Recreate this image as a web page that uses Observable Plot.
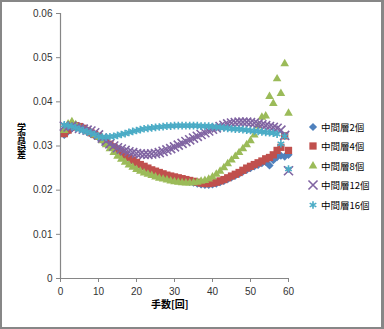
<!DOCTYPE html>
<html><head><meta charset="utf-8">
<script src="https://cdn.jsdelivr.net/npm/d3@7"></script>
<script src="https://cdn.jsdelivr.net/npm/@observablehq/plot@0.6"></script>
<style>
html,body{margin:0;padding:0;background:#fff;}
#wrap{position:relative;width:384px;height:329px;overflow:hidden;font-family:"Noto Sans CJK JP","Liberation Sans",sans-serif;}
#frame{position:absolute;left:0;top:0;width:384px;height:329px;box-sizing:border-box;border:2px solid #878787;border-right-width:3px;pointer-events:none;}
#chart{position:absolute;left:0;top:0;}
#ytitle{position:absolute;left:16px;top:123px;font-size:9px;font-weight:bold;color:#000;writing-mode:vertical-rl;text-orientation:upright;line-height:11px;font-family:"Noto Sans CJK JP",sans-serif;}
#xtitle{position:absolute;left:151px;top:296px;font-size:10px;font-weight:bold;color:#000;}
#legend{position:absolute;left:307px;top:117px;font-size:9.5px;color:#000;}
.li{display:flex;align-items:center;height:19.5px;}
.li svg{margin-right:2px;}
</style></head>
<body>
<div id="wrap"><div id="chart"></div><div id="ytitle"></div><div id="xtitle"></div><div id="legend"></div><div id="frame"></div></div>
<script>
const seriesNames = ["中間層2個","中間層4個","中間層8個","中間層12個","中間層16個"];
const colors = ["#4F81BD","#C0504D","#9BBB59","#8064A2","#4BACC6"];
const symbols = ["diamond2","square","triangle","times","asterisk"];
const epochs = d3.range(1, 61);
const xTicks = [0,10,20,30,40,50,60];
const yTicks = [0,0.01,0.02,0.03,0.04,0.05,0.06];
const xTitle = "手数[回]";
const yTitle = "学習誤差";

const s4 = [.0328,.0336,.0343,.0346,.0344,.0340,.0335,.0330,.0326,.0322,
            .0316,.0310,.0304,.0298,.0292,.0286,.0280,.0274,.0268,.0263,
            .0258,.0254,.0250,.0246,.0243,.0240,.0237,.0234,.0232,.0230,
            .0228,.0226,.0224,.0222,.0220,.0218,.0216,.0215,.0215,.0216,
            .0218,.0221,.0224,.0228,.0232,.0236,.0240,.0245,.0250,.0254,
            .0258,.0262,.0266,.0271,.0274,.0280,.0290,.0297,.0323,.0290];
const s2 = [.0325,.0333,.0340,.0343,.0341,.0337,.0332,.0327,.0323,.0319,
            .0313,.0307,.0301,.0295,.0289,.0283,.0277,.0271,.0265,.0260,
            .0255,.0251,.0247,.0243,.0240,.0237,.0234,.0231,.0229,.0227,
            .0225,.0223,.0221,.0219,.0217,.0215,.0213,.0212,.0212,.0213,
            .0215,.0218,.0221,.0225,.0229,.0233,.0237,.0242,.0246,.0250,
            .0254,.0257,.0261,.0264,.0256,.0268,.0275,.0278,.0276,.0280];
const s8 = [.0335,.0350,.0355,.0348,.0342,.0338,.0334,.0330,.0325,.0320,
            .0312,.0303,.0294,.0285,.0277,.0270,.0263,.0257,.0252,.0247,
            .0243,.0239,.0236,.0233,.0230,.0227,.0225,.0223,.0221,.0219,
            .0218,.0217,.0216,.0216,.0217,.0218,.0220,.0222,.0225,.0230,
            .0236,.0243,.0251,.0260,.0268,.0276,.0285,.0294,.0303,.0312,
            .0325,.0345,.0365,.0368,.0412,.0396,.0452,.0419,.0486,.0374];
const s12 = [.0345,.0343,.0345,.0342,.0340,.0338,.0336,.0334,.0330,.0325,
             .0318,.0311,.0305,.0300,.0296,.0293,.0290,.0287,.0285,.0283,
             .0282,.0281,.0281,.0282,.0283,.0285,.0288,.0291,.0294,.0298,
             .0302,.0306,.0310,.0314,.0318,.0322,.0326,.0330,.0334,.0338,
             .0341,.0344,.0347,.0350,.0352,.0353,.0354,.0354,.0354,.0353,
             .0352,.0350,.0348,.0346,.0344,.0342,.0340,.0336,.0324,.0244];
const s16 = [.0348,.0346,.0344,.0341,.0338,.0335,.0332,.0329,.0326,.0322,
             .0320,.0320,.0321,.0322,.0324,.0326,.0328,.0331,.0333,.0335,
             .0337,.0339,.0340,.0341,.0342,.0343,.0344,.0345,.0345,.0346,
             .0346,.0346,.0346,.0346,.0346,.0346,.0345,.0345,.0345,.0344,
             .0343,.0342,.0341,.0340,.0339,.0338,.0338,.0337,.0336,.0335,
             .0334,.0333,.0332,.0331,.0330,.0329,.0327,.0305,.0322,.0248];

const seriesValues = [s2, s4, s8, s12, s16];
const radii = [3.7, 4.1, 3.2, 4.2, 3.6];

const marks = [];
seriesValues.forEach((vals, i) => {
  const data = epochs.map((e, k) => ({x: e, y: vals[k]}));
  const stroked = symbols[i] === "times" || symbols[i] === "asterisk";
  marks.push(Plot.dot(data, {
    x: "x", y: "y", symbol: () => symbols[i], r: radii[i],
    ...(stroked ? {stroke: colors[i], strokeWidth: 1.6, fill: "none"} : {fill: colors[i], stroke: "none"})
  }));
});

const chart = Plot.plot({
  width: 384, height: 329,
  marginLeft: 60, marginRight: 96, marginTop: 13, marginBottom: 51,
  style: {fontFamily: "'Liberation Sans', 'Noto Sans CJK JP', sans-serif", fontSize: "10px", color: "#333", background: "transparent"},
  x: {domain: [0, 60]},
  y: {domain: [0, 0.06]},
  symbol: {type: "identity"},
  marks: [
    Plot.axisY({ticks: yTicks, tickSize: 4, tickPadding: 4, stroke: "#868686", tickFormat: d => String(+d.toFixed(2)), label: null, fill: "#333"}),
    Plot.axisX({ticks: xTicks, tickSize: 4, tickPadding: 5, stroke: "#868686", tickFormat: d => String(d), label: null, fill: "#333"}),
    Plot.ruleX([0], {stroke: "#868686", strokeWidth: 1.2}),
    Plot.ruleY([0], {stroke: "#868686", strokeWidth: 1.2}),
    ...marks
  ]
});
document.getElementById("chart").appendChild(chart);
document.getElementById("ytitle").textContent = yTitle;
document.getElementById("xtitle").textContent = xTitle;

const leg = document.getElementById("legend");
const symMap = {diamond2: d3.symbolDiamond2, square: d3.symbolSquare, triangle: d3.symbolTriangle, times: d3.symbolTimes, asterisk: d3.symbolAsterisk};
seriesNames.forEach((name, i) => {
  const row = document.createElement("div");
  row.className = "li";
  const svg = d3.create("svg").attr("width", 12).attr("height", 12);
  const stroked = symbols[i] === "times" || symbols[i] === "asterisk";
  svg.append("path")
    .attr("transform", "translate(6,6)")
    .attr("d", d3.symbol(symMap[symbols[i]], Math.PI * radii[i] * radii[i])())
    .attr("fill", stroked ? "none" : colors[i])
    .attr("stroke", stroked ? colors[i] : "none")
    .attr("stroke-width", 1.6);
  row.appendChild(svg.node());
  const t = document.createElement("span");
  t.textContent = name;
  row.appendChild(t);
  leg.appendChild(row);
});
</script>
</body></html>
